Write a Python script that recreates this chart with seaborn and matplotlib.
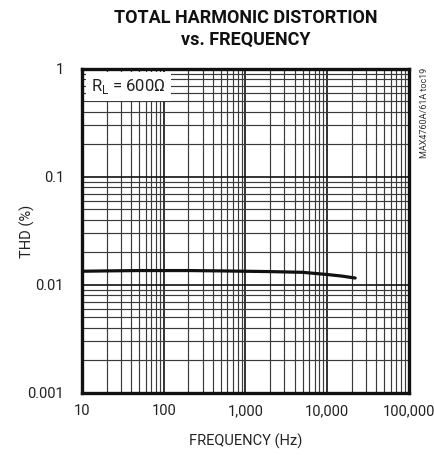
import matplotlib
matplotlib.use("Agg")
import matplotlib.pyplot as plt
import matplotlib.ticker as mticker
import seaborn as sns
import pandas as pd

# THD measured across the audio band, R_L = 600 ohm
freq_hz = [10, 20, 50, 100, 200, 500, 1000, 2000, 5000, 10000, 15000, 22000]
thd_pct = [0.0134, 0.0135, 0.0136, 0.0136, 0.0136, 0.0135, 0.0134, 0.0133, 0.0131, 0.0125, 0.0121, 0.0116]

x_ticks = [10, 100, 1000, 10000, 100000]
x_labels = ["10", "100", "1,000", "10,000", "100,000"]
y_ticks = [0.001, 0.01, 0.1, 1]
y_labels = ["0.001", "0.01", "0.1", "1"]

sns.set_theme(style="white")
plt.rcParams["font.family"] = ["Roboto", "DejaVu Sans"]

df = pd.DataFrame({"freq": freq_hz, "thd": thd_pct})

fig = plt.figure(figsize=(4.35, 4.55), dpi=100)
ax = fig.add_axes([0.1885, 0.1363, 0.7515, 0.7121])

ax.set_xscale("log")
ax.set_yscale("log")
ax.set_xlim(10, 100000)
ax.set_ylim(0.001, 1)

# log-paper grid: decades plus every intermediate line
ax.xaxis.set_minor_locator(mticker.LogLocator(base=10, subs=range(2, 10), numticks=20))
ax.yaxis.set_minor_locator(mticker.LogLocator(base=10, subs=range(2, 10), numticks=20))
ax.grid(which="major", color="#111111", linewidth=1.2)
ax.grid(which="minor", color="#3a3a3a", linewidth=0.85)
ax.set_axisbelow(True)

sns.lineplot(data=df, x="freq", y="thd", ax=ax, color="#111111", linewidth=2.3, zorder=3)

ax.set_xticks(x_ticks)
ax.set_xticklabels(x_labels)
ax.set_yticks(y_ticks)
ax.set_yticklabels(y_labels)
ax.xaxis.set_minor_formatter(mticker.NullFormatter())
ax.yaxis.set_minor_formatter(mticker.NullFormatter())
ax.tick_params(which="both", length=0, labelsize=10.5, colors="#222222")
ax.tick_params(axis="x", pad=8)
ax.tick_params(axis="y", pad=13)

for s in ax.spines.values():
    s.set_visible(True)
    s.set_color("#111111")
    s.set_linewidth(2.4)

ax.set_xlabel("FREQUENCY (Hz)", fontsize=10.5, color="#222222")
ax.xaxis.set_label_coords(0.5, -0.125)
ax.set_ylabel("THD (%)", fontsize=10.5, color="#222222")
ax.yaxis.set_label_coords(-0.145, 0.5)

fig.text(0.5645, 0.936, "TOTAL HARMONIC DISTORTION\nvs. FREQUENCY", ha="center", va="center",
         fontsize=13, fontweight="bold", color="#111111", linespacing=1.25)

ax.text(0.028, 0.945, r"R$_\mathregular{L}$ = 600Ω", transform=ax.transAxes, ha="left", va="center",
        fontsize=12, color="#222222", zorder=4,
        bbox=dict(boxstyle="square,pad=0.3", facecolor="white", edgecolor="none"))

fig.text(0.977, 0.85, "MAX4760A/61A toc19", rotation=90, ha="center", va="top",
         fontsize=6.5, color="#333333")

fig.savefig("out.png", dpi=100)
